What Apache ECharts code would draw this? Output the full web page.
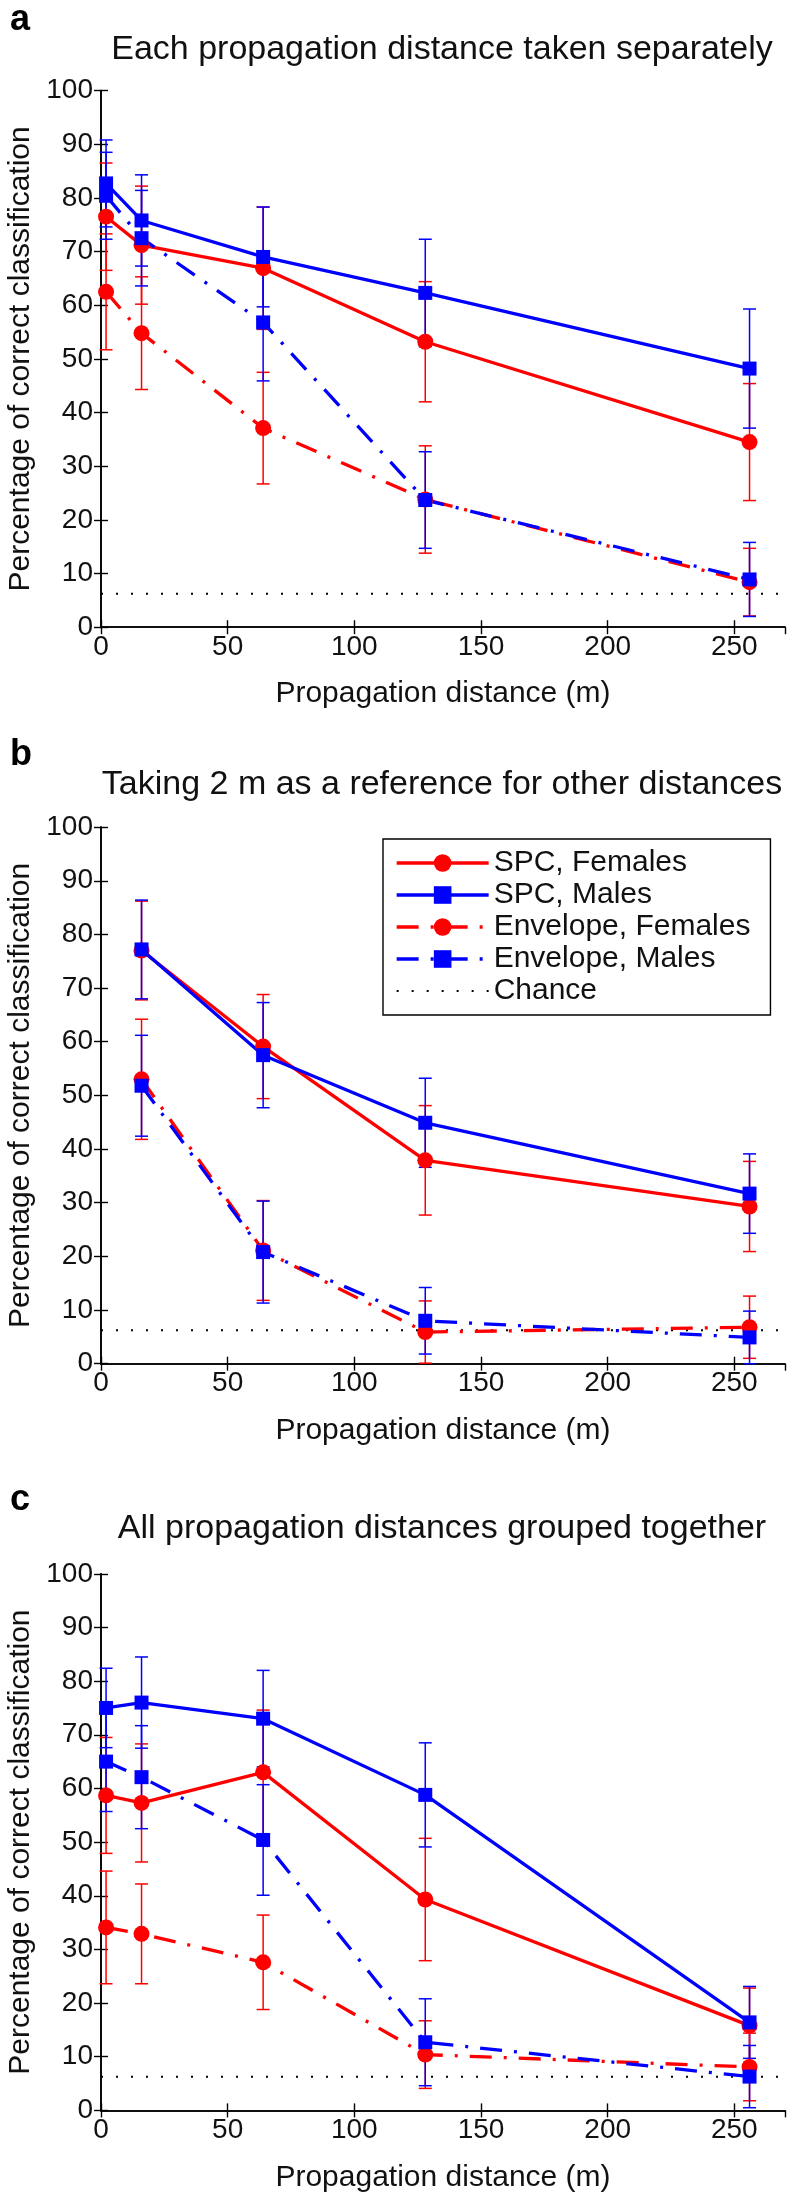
<!DOCTYPE html>
<html>
<head>
<meta charset="utf-8">
<script src="https://cdn.jsdelivr.net/npm/echarts@6/dist/echarts.min.js"></script>
<style>
  html, body { margin: 0; padding: 0; background: #fff; }
  #chart { width: 790px; height: 2194px; }
</style>
</head>
<body>
<div id="chart"></div>
<script>
// propagation distances (m)
const distA = [2, 16, 64, 128, 256]
const distB = [16, 64, 128, 256]
const distC = [2, 16, 64, 128, 256]

// a: each propagation distance taken separately
const spcFemA = [76.5, 71.2, 66.9, 53.2, 34.5]
const spcMaleA = [82.7, 75.8, 69.0, 62.3, 48.2]
const envFemA = [62.5, 54.8, 37.1, 23.8, 8.4]
const envMaleA = [80.4, 72.5, 56.8, 23.7, 8.9]
const errSpcFemA = [10.0, 11.0, 11.4, 11.2, 10.9]
const errSpcMaleA = [8.1, 8.5, 9.3, 10.0, 11.1]
const errEnvFemA = [10.8, 10.5, 10.4, 10.0, 6.3]
const errEnvMaleA = [8.1, 8.9, 10.9, 9.0, 6.9]

// b: taking 2 m as a reference
const spcFemB = [77.0, 59.1, 37.9, 29.3]
const spcMaleB = [77.2, 57.5, 44.9, 31.7]
const envFemB = [53.0, 21.1, 5.9, 6.8]
const envMaleB = [51.8, 20.8, 8.0, 4.9]
const errSpcFemB = [9.2, 9.7, 10.2, 8.4]
const errSpcMaleB = [9.2, 9.8, 8.3, 7.4]
const errEnvFemB = [11.2, 9.3, 5.8, 5.8]
const errEnvMaleB = [9.4, 9.5, 6.2, 4.9]

// c: all distances grouped together
const spcFemC = [58.7, 57.3, 63.0, 39.3, 15.8]
const spcMaleC = [75.0, 76.0, 73.0, 58.8, 16.4]
const envFemC = [34.1, 32.9, 27.6, 10.4, 8.1]
const envMaleC = [65.0, 62.1, 50.4, 12.7, 6.3]
const errSpcFemC = [10.8, 11.0, 11.6, 11.4, 7.0]
const errSpcMaleC = [7.4, 8.5, 9.0, 9.7, 6.7]
const errEnvFemC = [10.5, 9.3, 8.8, 6.3, 6.3]
const errEnvMaleC = [9.3, 9.6, 10.3, 8.1, 5.8]

const chanceLevel = 6.25
const xTicks = [0, 270, 50]
const yTicks = [0, 100, 10]

const panelLetters = ['a', 'b', 'c']
const panelTitles = [
  'Each propagation distance taken separately',
  'Taking 2 m as a reference for other distances',
  'All propagation distances grouped together'
]
const seriesNames = ['SPC, Females', 'SPC, Males', 'Envelope, Females', 'Envelope, Males']

// styles
const FONT = 'Liberation Sans, Arial, Helvetica, sans-serif'
const TXT = '#111'
const colors = ['#ff0000', '#0000ff', '#ff0000', '#0000ff']
const symbols = ['circle', 'rect', 'circle', 'rect']
const symbolSizes = [16, 14, 16, 14]
const dashDot = [22, 12, 3, 12]
const lineTypes = ['solid', 'solid', dashDot, dashDot]

const panels = [
  { dist: distA, vals: [spcFemA, spcMaleA, envFemA, envMaleA], errs: [errSpcFemA, errSpcMaleA, errEnvFemA, errEnvMaleA] },
  { dist: distB, vals: [spcFemB, spcMaleB, envFemB, envMaleB], errs: [errSpcFemB, errSpcMaleB, errEnvFemB, errEnvMaleB] },
  { dist: distC, vals: [spcFemC, spcMaleC, envFemC, envMaleC], errs: [errSpcFemC, errSpcMaleC, errEnvFemC, errEnvMaleC] }
]
const gridTops = [90.6, 827.1, 1573.8]
const gridHeight = 536.6
const titleY = [50, 785, 1529]
const letterY = [20, 755, 1500]

const chart = echarts.init(document.getElementById('chart'))

const axisLine = { show: true, lineStyle: { color: '#000', width: 1.6 } }
const tick = { show: true, inside: true, length: 7, lineStyle: { color: '#000', width: 1.4 } }

const grids = []
const xAxes = []
const yAxes = []
const series = []
const graphics = []

// vertical error bar with caps
function errRender(color) {
  return function (params, api) {
    const x = api.value(0)
    const lo = api.coord([x, api.value(1)])
    const hi = api.coord([x, api.value(2)])
    const w = 6.5
    const style = { stroke: color, lineWidth: 1.5, fill: null }
    return {
      type: 'group',
      children: [
        { type: 'line', shape: { x1: lo[0], y1: lo[1], x2: hi[0], y2: hi[1] }, style: style },
        { type: 'line', shape: { x1: hi[0] - w, y1: hi[1], x2: hi[0] + w, y2: hi[1] }, style: style },
        { type: 'line', shape: { x1: lo[0] - w, y1: lo[1], x2: lo[0] + w, y2: lo[1] }, style: style }
      ]
    }
  }
}

panels.forEach((p, i) => {
  grids.push({
    left: 101, right: 5, top: gridTops[i], height: gridHeight,
    containLabel: false, outerBoundsMode: 'none', show: false
  })
  // bottom + top x axes
  xAxes.push({
    type: 'value', gridIndex: i, position: 'bottom',
    min: xTicks[0], max: xTicks[1], interval: xTicks[2],
    axisLine: axisLine, axisTick: tick, splitLine: { show: false },
    axisLabel: { fontSize: 28, fontFamily: FONT, color: TXT, margin: 6, showMaxLabel: false },
    name: 'Propagation distance (m)', nameLocation: 'middle', nameGap: 52,
    nameTextStyle: { fontSize: 30, fontFamily: FONT, color: TXT }
  })
  xAxes.push({
    type: 'value', gridIndex: i, position: 'top',
    min: xTicks[0], max: xTicks[1], interval: xTicks[2],
    axisLine: axisLine, axisTick: tick, splitLine: { show: false },
    axisLabel: { show: false }
  })
  yAxes.push({
    type: 'value', gridIndex: i, position: 'left',
    min: yTicks[0], max: yTicks[1], interval: yTicks[2],
    axisLine: axisLine, axisTick: tick, splitLine: { show: false },
    axisLabel: { fontSize: 28, fontFamily: FONT, color: TXT, margin: 8 },
    name: 'Percentage of correct classification', nameLocation: 'middle', nameGap: 64, nameRotate: 90,
    nameTextStyle: { fontSize: 30, fontFamily: FONT, color: TXT }
  })
  yAxes.push({
    type: 'value', gridIndex: i, position: 'right',
    min: yTicks[0], max: yTicks[1], interval: yTicks[2],
    axisLine: axisLine, axisTick: tick, splitLine: { show: false },
    axisLabel: { show: false }
  })

  const xi = i * 2
  const yi = i * 2

  // chance level
  series.push({
    name: 'Chance', type: 'line', xAxisIndex: xi, yAxisIndex: yi,
    data: [[xTicks[0], chanceLevel], [xTicks[1], chanceLevel]],
    symbol: 'none', silent: true, z: 1,
    itemStyle: { color: '#000', opacity: 0 },
    lineStyle: { color: '#000', width: 2, type: [2, 13] }
  })

  p.vals.forEach((vals, k) => {
    series.push({
      name: seriesNames[k] + ' err', type: 'custom', xAxisIndex: xi, yAxisIndex: yi,
      renderItem: errRender(colors[k]),
      encode: { x: 0, y: [1, 2] },
      data: vals.map((v, j) => [p.dist[j], v - p.errs[k][j], v + p.errs[k][j]]),
      z: 2, silent: true
    })
  })
  p.vals.forEach((vals, k) => {
    series.push({
      name: seriesNames[k], type: 'line', xAxisIndex: xi, yAxisIndex: yi,
      data: vals.map((v, j) => [p.dist[j], v]),
      symbol: symbols[k], symbolSize: symbolSizes[k], showSymbol: true,
      itemStyle: { color: colors[k] },
      lineStyle: { color: colors[k], width: 3.3, type: lineTypes[k] },
      z: 3, silent: true
    })
  })

  graphics.push({
    type: 'text', x: 10, y: letterY[i],
    style: {
      text: panelLetters[i], fontSize: 36, fontWeight: 'bold', fontFamily: FONT, fill: '#000',
      align: 'left', verticalAlign: 'middle', textAlign: 'left', textVerticalAlign: 'middle'
    }
  })
  graphics.push({
    type: 'text', x: 442, y: titleY[i],
    style: {
      text: panelTitles[i], fontSize: 34, fontFamily: FONT, fill: TXT,
      align: 'center', verticalAlign: 'middle', textAlign: 'center', textVerticalAlign: 'middle'
    }
  })
})

const legendItems = seriesNames.map((n, k) => ({
  name: n, lineStyle: { width: 3.3, color: colors[k], type: lineTypes[k] }
}))
legendItems.push({ name: 'Chance', itemStyle: { opacity: 0 }, lineStyle: { width: 2, color: '#000', type: [2, 13] } })

chart.setOption({
  animation: false,
  backgroundColor: '#fff',
  grid: grids,
  xAxis: xAxes,
  yAxis: yAxes,
  series: series,
  graphic: graphics,
  legend: {
    data: legendItems,
    orient: 'vertical', left: 383, top: 839,
    itemWidth: 92, itemHeight: 22, itemGap: 2, itemTextGap: 14,
    padding: [9, 20, 9, 12],
    backgroundColor: '#fff', borderColor: '#000', borderWidth: 1.4, borderRadius: 0,
    selectedMode: false,
    textStyle: { fontSize: 30, fontFamily: FONT, color: TXT, lineHeight: 30 }
  }
})
</script>
</body>
</html>
